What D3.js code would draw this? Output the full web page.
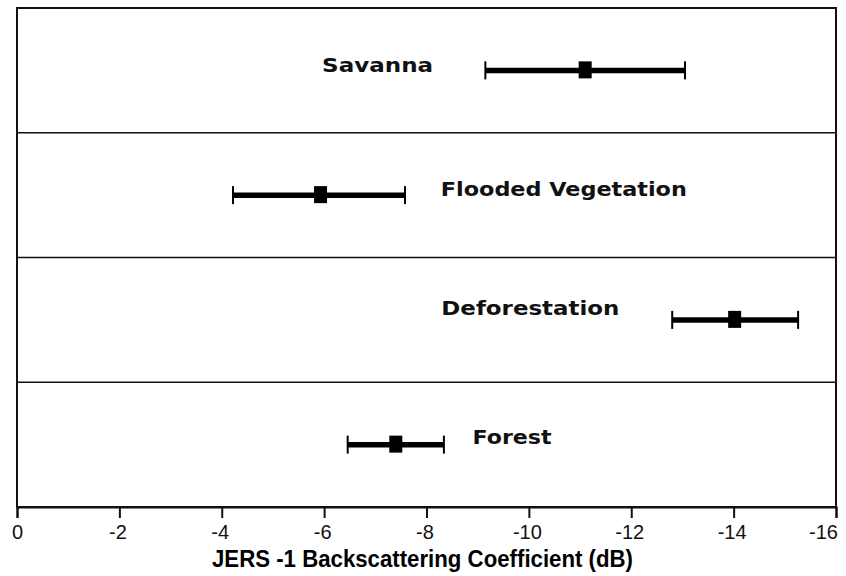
<!DOCTYPE html>
<html>
<head>
<meta charset="utf-8">
<script src="https://cdn.jsdelivr.net/npm/d3@7"></script>
<style>
  html, body { margin: 0; padding: 0; background: #fff; }
  svg { display: block; }
</style>
</head>
<body>
<svg id="chart" width="846" height="576"></svg>
<script>
// ---- data ----
const categories = ["Savanna", "Flooded Vegetation", "Deforestation", "Forest"];
const means = [-11.1, -5.93, -14.02, -7.40];
const lows  = [-9.15, -4.22, -12.80, -6.46];
const highs = [-13.05, -7.58, -15.26, -8.34];
// label anchor (data units)
const labelAt = [-5.96, -8.28, -8.29, -8.90];
const labelDy = [-6, -6, -12, -8];
const labelWidths = [111, 246, 178, 79];
const tickValues = [0, -2, -4, -6, -8, -10, -12, -14, -16];
const xTitle = "JERS -1 Backscattering Coefficient (dB)";

// ---- layout ----
const svg = d3.select("#chart");
const mLeft = 17, mRight = 836, mTop = 8, mBottom = 507;

const x = d3.scaleLinear().domain([0, -16]).range([mLeft, mRight]);
const y = d3.scaleBand().domain(categories).range([mTop, mBottom]).paddingInner(0).paddingOuter(0);

// separators between panels
svg.append("g").selectAll("line")
  .data(categories.slice(1))
  .join("line")
  .attr("x1", mLeft).attr("x2", mRight)
  .attr("y1", d => y(d)).attr("y2", d => y(d))
  .attr("stroke", "#111").attr("stroke-width", 1.6);

// frame
svg.append("rect")
  .attr("x", mLeft).attr("y", mTop)
  .attr("width", mRight - mLeft).attr("height", mBottom - mTop)
  .attr("fill", "none").attr("stroke", "#111").attr("stroke-width", 2);

// x axis
const axis = d3.axisBottom(x).tickValues(tickValues).tickSize(11).tickPadding(7)
  .tickFormat(d => d === 0 ? "0" : String(d));
const gx = svg.append("g").attr("transform", `translate(0,${mBottom})`).call(axis);
gx.select(".domain").attr("stroke", "#111").attr("stroke-width", 2);
gx.selectAll(".tick line").attr("stroke", "#111").attr("stroke-width", 2);
gx.selectAll(".tick text")
  .attr("font-family", "'Liberation Sans', Arial, sans-serif")
  .attr("font-size", 20).attr("fill", "#111")
  .attr("dx", (d, i) => i === tickValues.length - 1 ? -13 : (d === 0 ? 0 : -2));

svg.append("text")
  .attr("x", 422.5).attr("y", 567)
  .attr("text-anchor", "middle")
  .attr("font-family", "'Liberation Sans Narrow', 'Liberation Sans', Arial, sans-serif")
  .attr("font-weight", "bold").attr("font-size", 23)
  .attr("textLength", 421).attr("lengthAdjust", "spacingAndGlyphs")
  .attr("fill", "#000")
  .text(xTitle);

// error bars
const rows = categories.map((c, i) => ({ c, m: means[i], lo: lows[i], hi: highs[i], la: labelAt[i], dy: labelDy[i], w: labelWidths[i] }));
const cy = d => y(d.c) + y.bandwidth() / 2;

const g = svg.append("g");
g.selectAll("line.bar").data(rows).join("line").attr("class", "bar")
  .attr("x1", d => x(d.lo)).attr("x2", d => x(d.hi))
  .attr("y1", cy).attr("y2", cy)
  .attr("stroke", "#000").attr("stroke-width", 5.5);

g.selectAll("line.capL").data(rows).join("line").attr("class", "capL")
  .attr("x1", d => x(d.lo)).attr("x2", d => x(d.lo))
  .attr("y1", d => cy(d) - 9).attr("y2", d => cy(d) + 9)
  .attr("stroke", "#000").attr("stroke-width", 2);

g.selectAll("line.capR").data(rows).join("line").attr("class", "capR")
  .attr("x1", d => x(d.hi)).attr("x2", d => x(d.hi))
  .attr("y1", d => cy(d) - 9).attr("y2", d => cy(d) + 9)
  .attr("stroke", "#000").attr("stroke-width", 2);

g.selectAll("rect.pt").data(rows).join("rect").attr("class", "pt")
  .attr("x", d => x(d.m) - 6.5).attr("y", d => cy(d) - 9)
  .attr("width", 13).attr("height", 17)
  .attr("fill", "#000");

g.selectAll("text.lab").data(rows).join("text").attr("class", "lab")
  .attr("x", d => x(d.la)).attr("y", d => cy(d) + d.dy)
  .attr("dy", "0.36em")
  .attr("font-family", "'DejaVu Sans', Verdana, sans-serif")
  .attr("font-weight", "bold").attr("font-size", 20)
  .attr("textLength", d => d.w).attr("lengthAdjust", "spacingAndGlyphs")
  .attr("fill", "#111")
  .text(d => d.c);
</script>
</body>
</html>
